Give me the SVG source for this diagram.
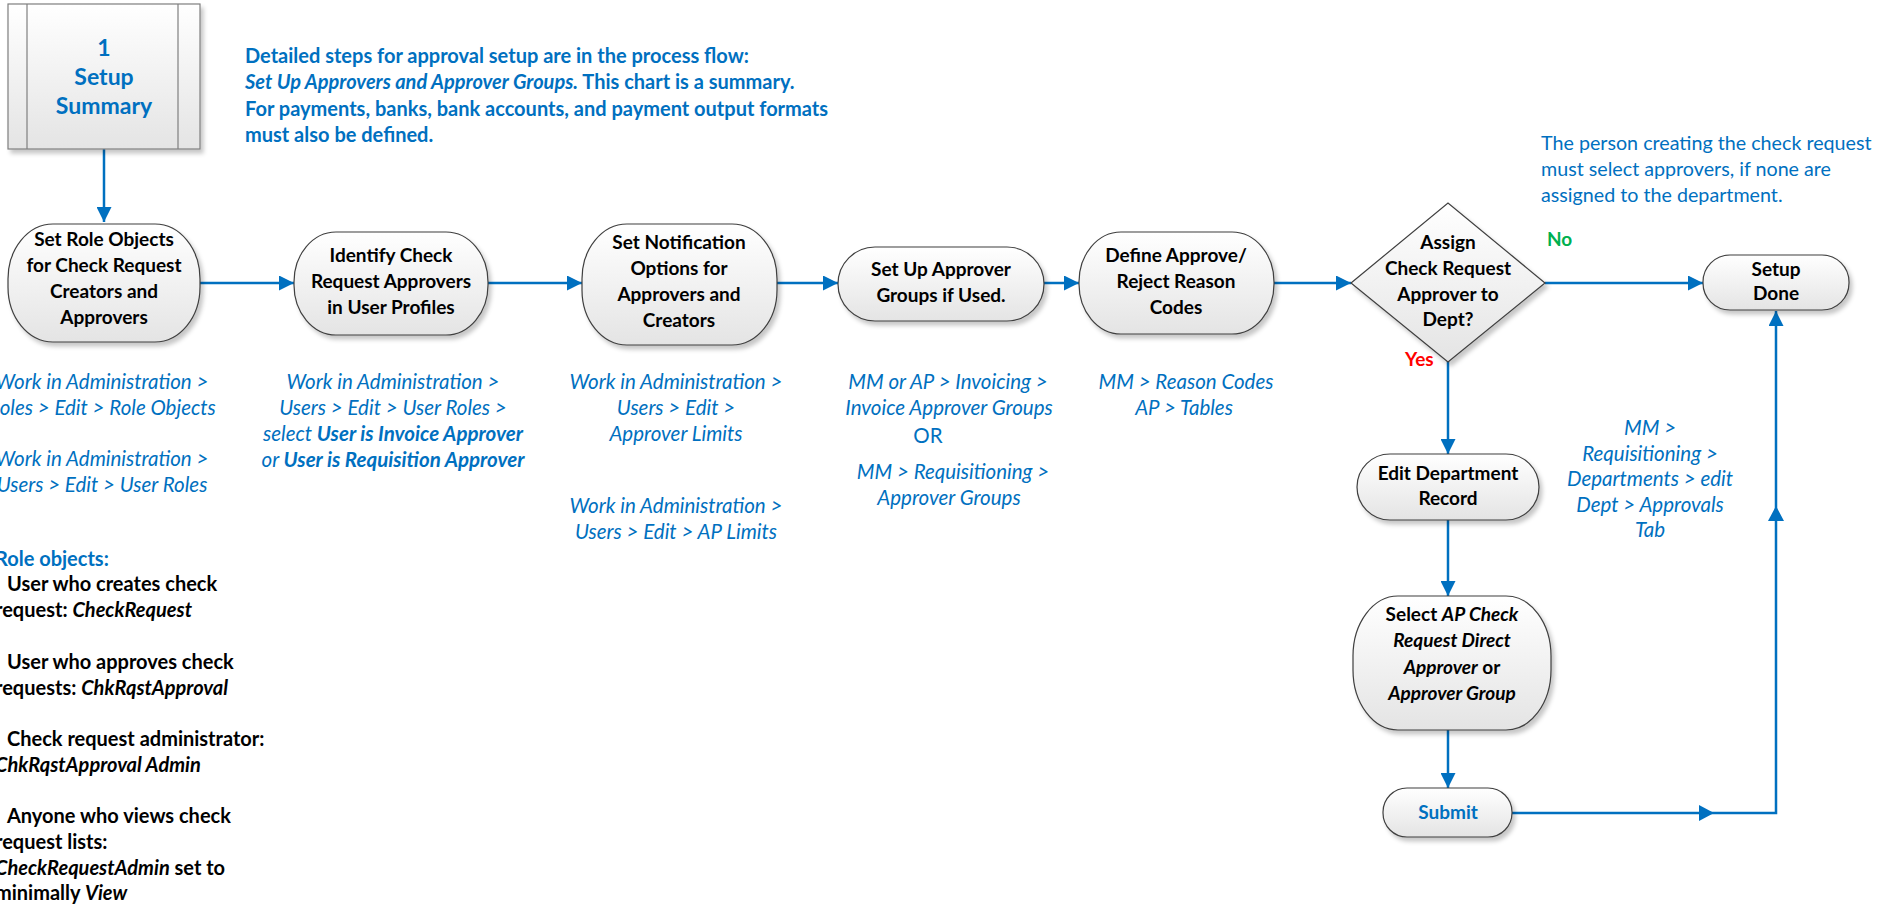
<svg xmlns="http://www.w3.org/2000/svg" width="1897" height="905" viewBox="0 0 1897 905">
<style>
.nd{fill:url(#g);stroke:#3f3f3f;stroke-width:1.2;filter:url(#sh)}
.nt{font-family:Lato,"Open Sans",sans-serif;font-weight:bold;font-size:19px;fill:#000;text-anchor:middle}
.bt{font-family:Lato,"Open Sans",sans-serif;font-style:italic;font-size:20.5px;fill:#0070c0;text-anchor:middle}
.bb{font-weight:bold}
.ds{font-family:Lato,"Open Sans",sans-serif;font-weight:bold;font-size:20px;fill:#0070c0}
.ro{font-family:Lato,"Open Sans",sans-serif;font-weight:bold;font-size:20px;fill:#000}
.it{font-style:italic}
.cn{stroke:#0070c0;stroke-width:2.5;fill:none}
.ah{fill:#0070c0}
</style>
<defs>
<linearGradient id="g" x1="0" y1="0" x2="0" y2="1"><stop offset="0" stop-color="#ffffff"/><stop offset="1" stop-color="#e4e4e4"/></linearGradient>
<filter id="sh" x="-10%" y="-10%" width="130%" height="130%"><feDropShadow dx="3" dy="4" stdDeviation="2" flood-color="#000" flood-opacity="0.22"/></filter>
<marker id="a" viewBox="0 0 10 10" refX="10" refY="5" markerWidth="6" markerHeight="6" orient="auto" markerUnits="strokeWidth"><path d="M0,0 L10,5 L0,10 z" fill="#0070c0"/></marker>
</defs>
<rect width="1897" height="905" fill="#fff"/>

<g id="connectors">
<line class="cn" x1="104" y1="149" x2="104" y2="222" marker-end="url(#a)"/>
<line class="cn" x1="200" y1="283" x2="294" y2="283" marker-end="url(#a)"/>
<line class="cn" x1="488" y1="283" x2="582" y2="283" marker-end="url(#a)"/>
<line class="cn" x1="777" y1="283" x2="838" y2="283" marker-end="url(#a)"/>
<line class="cn" x1="1044" y1="283" x2="1079" y2="283" marker-end="url(#a)"/>
<line class="cn" x1="1274" y1="283" x2="1351" y2="283" marker-end="url(#a)"/>
<line class="cn" x1="1545" y1="283" x2="1703" y2="283" marker-end="url(#a)"/>
<line class="cn" x1="1448" y1="361" x2="1448" y2="454" marker-end="url(#a)"/>
<line class="cn" x1="1448" y1="520" x2="1448" y2="596" marker-end="url(#a)"/>
<line class="cn" x1="1448" y1="730" x2="1448" y2="788" marker-end="url(#a)"/>
<polyline class="cn" points="1512,813 1776,813 1776,311" marker-end="url(#a)"/>
<path class="ah" d="M1714,813 L1699,805 L1699,821 z"/>
<path class="ah" d="M1776,506 L1768,521 L1784,521 z"/>
<text x="1547" y="246" style="font-family:Lato,sans-serif;font-weight:bold;font-size:19px;fill:#00b050">No</text>
<text x="1405" y="366" style="font-family:Lato,sans-serif;font-weight:bold;font-size:19px;fill:#ff0000">Yes</text>
</g>

<g id="setup-summary">
<rect x="8" y="4" width="192" height="145" fill="url(#g)" stroke="#7f7f7f" stroke-width="1.2" filter="url(#sh)"/>
<line x1="27" y1="4" x2="27" y2="149" stroke="#7f7f7f" stroke-width="1.2"/>
<line x1="178" y1="4" x2="178" y2="149" stroke="#7f7f7f" stroke-width="1.2"/>
<text x="104" y="56" text-anchor="middle" style="font-family:Lato,sans-serif;font-weight:bold;font-size:23px;fill:#0070c0">1</text>
<text x="104" y="85" text-anchor="middle" style="font-family:Lato,sans-serif;font-weight:bold;font-size:23px;fill:#0070c0">Setup</text>
<text x="104" y="114" text-anchor="middle" style="font-family:Lato,sans-serif;font-weight:bold;font-size:23px;fill:#0070c0">Summary</text>
</g>

<g id="description">
<text class="ds" x="245" y="63">Detailed steps for approval setup are in the process flow:</text>
<text class="ds" x="245" y="89"><tspan class="it">Set Up Approvers and Approver Groups.</tspan> This chart is a summary.</text>
<text class="ds" x="245" y="116">For payments, banks, bank accounts, and payment output formats</text>
<text class="ds" x="245" y="142">must also be defined.</text>
</g>

<g id="n1">
<rect class="nd" x="8" y="224" width="192" height="118" rx="45" ry="55"/>
<text class="nt" x="104" y="246">Set Role Objects</text>
<text class="nt" x="104" y="272">for Check Request</text>
<text class="nt" x="104" y="298">Creators and</text>
<text class="nt" x="104" y="324">Approvers</text>
</g>
<g id="n1-notes">
<text class="bt" x="102" y="389">Work in Administration &gt;</text>
<text class="bt" x="102" y="415">Roles &gt; Edit &gt; Role Objects</text>
<text class="bt" x="102" y="466">Work in Administration &gt;</text>
<text class="bt" x="102" y="492">Users &gt;  Edit  &gt; User Roles</text>
</g>

<g id="role-objects">
<text x="-5" y="566" style="font-family:Lato,sans-serif;font-weight:bold;font-size:20px;fill:#0070c0">Role objects:</text>
<text class="ro" x="7" y="591">User who creates check</text>
<text class="ro" x="-5" y="617">request: <tspan class="it">CheckRequest</tspan></text>
<text class="ro" x="7" y="669">User who approves check</text>
<text class="ro" x="-5" y="695">requests: <tspan class="it">ChkRqstApproval</tspan></text>
<text class="ro" x="7" y="746">Check request administrator:</text>
<text class="ro" x="-5" y="772"><tspan class="it">ChkRqstApproval Admin</tspan></text>
<text class="ro" x="7" y="823">Anyone who views check</text>
<text class="ro" x="-5" y="849">request lists:</text>
<text class="ro" x="-5" y="875"><tspan class="it">CheckRequestAdmin</tspan> set to</text>
<text class="ro" x="-5" y="900">minimally <tspan class="it">View</tspan></text>
</g>

<g id="n2">
<rect class="nd" x="294" y="232" width="194" height="103" rx="42" ry="50"/>
<text class="nt" x="391" y="262">Identify Check</text>
<text class="nt" x="391" y="288">Request Approvers</text>
<text class="nt" x="391" y="314">in User Profiles</text>
</g>
<g id="n2-notes">
<text class="bt" x="393" y="389">Work in Administration &gt;</text>
<text class="bt" x="393" y="415">Users &gt; Edit &gt; User Roles &gt;</text>
<text class="bt" x="393" y="441">select <tspan class="bb">User is Invoice Approver</tspan></text>
<text class="bt" x="393" y="467">or <tspan class="bb">User is Requisition Approver</tspan></text>
</g>

<g id="n3">
<rect class="nd" x="582" y="224" width="195" height="121" rx="45" ry="55"/>
<text class="nt" x="679" y="249">Set Notification</text>
<text class="nt" x="679" y="275">Options for</text>
<text class="nt" x="679" y="301">Approvers and</text>
<text class="nt" x="679" y="327">Creators</text>
</g>
<g id="n3-notes">
<text class="bt" x="676" y="389">Work in Administration &gt;</text>
<text class="bt" x="676" y="415">Users &gt; Edit &gt;</text>
<text class="bt" x="676" y="441">Approver Limits</text>
<text class="bt" x="676" y="513">Work in Administration &gt;</text>
<text class="bt" x="676" y="539">Users &gt; Edit &gt; AP Limits</text>
</g>

<g id="n4">
<rect class="nd" x="838" y="247" width="206" height="74" rx="37" ry="37"/>
<text class="nt" x="941" y="276">Set Up Approver</text>
<text class="nt" x="941" y="302">Groups if Used.</text>
</g>
<g id="n4-notes">
<text class="bt" x="948" y="389">MM or AP  &gt; Invoicing &gt;</text>
<text class="bt" x="949" y="415">Invoice Approver Groups</text>
<text class="bt" x="928" y="443" style="font-style:normal">OR</text>
<text class="bt" x="953" y="479">MM &gt; Requisitioning &gt;</text>
<text class="bt" x="949" y="505">Approver Groups</text>
</g>

<g id="n5">
<rect class="nd" x="1079" y="232" width="195" height="102" rx="42" ry="50"/>
<text class="nt" x="1176" y="262">Define Approve/</text>
<text class="nt" x="1176" y="288">Reject Reason</text>
<text class="nt" x="1176" y="314">Codes</text>
</g>
<g id="n5-notes">
<text class="bt" x="1186" y="389">MM  &gt; Reason Codes</text>
<text class="bt" x="1184" y="415">AP &gt; Tables</text>
</g>

<g id="decision">
<polygon class="nd" points="1351,283 1448,203 1545,283 1448,362"/>
<text class="nt" x="1448" y="249">Assign</text>
<text class="nt" x="1448" y="275">Check Request</text>
<text class="nt" x="1448" y="301">Approver to</text>
<text class="nt" x="1448" y="326">Dept?</text>
</g>

<g id="note-person">
<text x="1541" y="150" style="font-family:Lato,sans-serif;font-size:19.7px;fill:#0070c0">The person creating the check request</text>
<text x="1541" y="176" style="font-family:Lato,sans-serif;font-size:19.7px;fill:#0070c0">must select approvers, if none are</text>
<text x="1541" y="202" style="font-family:Lato,sans-serif;font-size:19.7px;fill:#0070c0">assigned to the department.</text>
</g>

<g id="setup-done">
<rect class="nd" x="1703" y="255" width="146" height="55" rx="27" ry="27"/>
<text class="nt" x="1776" y="276">Setup</text>
<text class="nt" x="1776" y="300">Done</text>
</g>

<g id="edit-dept">
<rect class="nd" x="1357" y="454" width="182" height="66" rx="33" ry="33"/>
<text class="nt" x="1448" y="480">Edit Department</text>
<text class="nt" x="1448" y="505">Record</text>
</g>

<g id="dept-notes">
<text class="bt" x="1650" y="435">MM &gt;</text>
<text class="bt" x="1650" y="461">Requisitioning &gt;</text>
<text class="bt" x="1650" y="486">Departments &gt; edit</text>
<text class="bt" x="1650" y="512">Dept &gt; Approvals</text>
<text class="bt" x="1650" y="537">Tab</text>
</g>

<g id="select-ap">
<rect class="nd" x="1353" y="596" width="198" height="134" rx="45" ry="60"/>
<text class="nt" x="1452" y="621">Select <tspan class="it">AP Check</tspan></text>
<text class="nt it" x="1452" y="647">Request Direct</text>
<text class="nt" x="1452" y="674"><tspan class="it">Approver</tspan> or</text>
<text class="nt it" x="1452" y="700">Approver Group</text>
</g>

<g id="submit">
<rect class="nd" x="1383" y="788" width="129" height="49" rx="24" ry="24"/>
<text class="nt" x="1448" y="819" style="fill:#0070c0">Submit</text>
</g>
</svg>
